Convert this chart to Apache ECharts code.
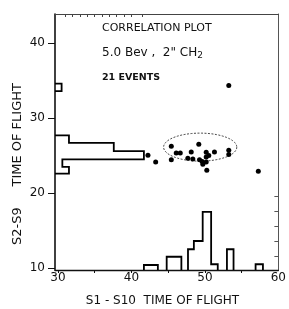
<!DOCTYPE html>
<html><head><meta charset="utf-8">
<script src="https://cdn.jsdelivr.net/npm/echarts@6/dist/echarts.min.js"></script>
<style>html,body{margin:0;padding:0;background:#fff}#c{width:289px;height:309px}</style>
</head><body><div id="c"></div>
<script>
// scatter events (S1-S10 time of flight, S2-S9 time of flight)
const eventX = [53.25,42.25,43.3,45.43,45.43,46.1,46.65,49.17,48.14,47.68,48.36,49.27,49.63,50.18,50.18,50.18,50.53,51.3,53.25,53.25,50.26,57.27,49.72];
const eventY = [34.36,25.05,24.13,26.24,24.46,25.35,25.35,26.5,25.48,24.66,24.53,24.44,24.22,25.46,24.8,24.13,25.0,25.48,25.73,25.16,23.06,22.9,23.86];
// projection onto the x axis (bottom histogram)
const xBinLeft  = [41.7,44.8,47.7,48.5,49.7,50.85,53.0,56.9];
const xBinRight = [43.6,46.8,48.5,49.7,50.85,51.75,53.9,57.9];
const xBinTop   = [10.4,11.5,12.5,13.6,17.5,10.5,12.5,10.5];
// projection onto the y axis (left histogram)
const yBinLow   = [22.6,23.5,24.5,25.6,26.7,33.6];
const yBinHigh  = [23.5,24.5,25.6,26.7,27.7,34.6];
const yBinRight = [31.5,30.6,41.7,37.6,31.5,30.5];
// selection ellipse
const ellipseCenter = [49.36,26.13];
const ellipseRadius = [4.98,1.87];
// ticks / labels
const xTickLabels = [30,40,50,60];
const xTicks = [30,35,40,45,50,55];
const yTickLabels = [10,20,30,40];
const topTicks = [31,32,33,34,35,36,37,38,39,40,41.5];
const rightTicks = [11.6,13.6,15.6,17.6,19.6];
const xRange = [29.6,60];
const yRange = [9.73,43.9];

function groups(lo, hi) {
  const out = []; let cur = [0];
  for (let i = 1; i < lo.length; i++) {
    if (Math.abs(lo[i] - hi[i-1]) < 0.01) cur.push(i); else { out.push(cur); cur = [i]; }
  }
  out.push(cur); return out;
}
const xGroups = groups(xBinLeft, xBinRight);
const yGroups = groups(yBinLow, yBinHigh);
const ink = '#111';
const FONT = 'DejaVu Sans';

const chart = echarts.init(document.getElementById('c'), null, {renderer:'canvas'});
chart.setOption({
  animation:false,
  backgroundColor:'#fff',
  grid:{left:55,right:10,top:14,bottom:39},
  xAxis:[{
    type:'value', min:xRange[0], max:xRange[1], position:'bottom',
    axisLine:{lineStyle:{color:ink,width:1.4}},
    axisTick:{customValues:xTicks,length:3,lineStyle:{color:ink}},
    axisLabel:{customValues:xTickLabels,margin:2,fontSize:12,color:ink,fontFamily:FONT},
    splitLine:{show:false}
  },{
    type:'value', min:xRange[0], max:xRange[1], position:'top',
    axisLine:{lineStyle:{color:'#444',width:1}},
    axisTick:{customValues:topTicks,inside:true,length:3,lineStyle:{color:'#444'}},
    axisLabel:{show:false}, splitLine:{show:false}
  }],
  yAxis:[{
    type:'value', min:yRange[0], max:yRange[1], position:'left',
    axisLine:{lineStyle:{color:ink,width:1.6}},
    axisTick:{customValues:yTickLabels,length:7,lineStyle:{color:ink}},
    axisLabel:{customValues:yTickLabels,margin:10,fontSize:12,color:ink,fontFamily:FONT},
    splitLine:{show:false}
  },{
    type:'value', min:yRange[0], max:yRange[1], position:'right',
    axisLine:{lineStyle:{color:'#555',width:1}},
    axisTick:{customValues:rightTicks,inside:true,length:4,lineStyle:{color:'#555'}},
    axisLabel:{show:false}, splitLine:{show:false}
  }],
  graphic:[
    {type:'text',left:102,top:23,style:{text:'CORRELATION PLOT',font:'11px "DejaVu Sans"',fill:ink}},
    {type:'text',left:102,top:47,style:{text:'5.0 Bev ,  2" CH{s|2}',font:'12px "DejaVu Sans"',fill:ink,
      rich:{s:{fontSize:9,fontFamily:FONT,padding:[6,0,0,0],fill:ink}}}},
    {type:'text',left:102,top:73,style:{text:'21 EVENTS',font:'bold 9.5px "DejaVu Sans"',fill:ink}},
    {type:'text',x:162.5,y:301,style:{text:'S1 - S10  TIME OF FLIGHT',font:'12px "DejaVu Sans"',fill:ink,align:'center',verticalAlign:'middle'}},
    {type:'text',x:18,y:164,rotation:Math.PI/2,style:{text:'S2-S9     TIME OF FLIGHT',font:'13px "DejaVu Sans"',fill:ink,align:'center',verticalAlign:'middle'}}
  ],
  series:[
    {type:'custom', xAxisIndex:0, yAxisIndex:0, clip:false,
     data:xGroups.map((g,i)=>i),
     renderItem:function(params, api){
       const g = xGroups[params.dataIndex];
       const pts = [api.coord([xBinLeft[g[0]], yRange[0]])];
       g.forEach(i=>{ pts.push(api.coord([xBinLeft[i], xBinTop[i]])); pts.push(api.coord([xBinRight[i], xBinTop[i]])); });
       pts.push(api.coord([xBinRight[g[g.length-1]], yRange[0]]));
       return {type:'polyline',shape:{points:pts},style:{stroke:'#000',lineWidth:1.8,fill:null}};
     }},
    {type:'custom', xAxisIndex:0, yAxisIndex:0, clip:false,
     data:yGroups.map((g,i)=>i),
     renderItem:function(params, api){
       const g = yGroups[params.dataIndex];
       const pts = [api.coord([xRange[0], yBinLow[g[0]]])];
       g.forEach(i=>{ pts.push(api.coord([yBinRight[i], yBinLow[i]])); pts.push(api.coord([yBinRight[i], yBinHigh[i]])); });
       pts.push(api.coord([xRange[0], yBinHigh[g[g.length-1]]]));
       return {type:'polyline',shape:{points:pts},style:{stroke:'#000',lineWidth:1.8,fill:null}};
     }},
    {type:'custom', xAxisIndex:0, yAxisIndex:0, data:[0],
     renderItem:function(params, api){
       const c = api.coord(ellipseCenter);
       const s = api.size(ellipseRadius);
       const pts = [];
       for (let k = 0; k < 90; k++) { const t = k/90*2*Math.PI; pts.push([c[0]+s[0]*Math.cos(t), c[1]+s[1]*Math.sin(t)]); }
       return {type:'polygon',shape:{points:pts},style:{stroke:'#333',lineWidth:0.9,lineDash:[2,1.5],fill:null}};
     }},
    {type:'scatter', xAxisIndex:0, yAxisIndex:0, symbolSize:5,
     itemStyle:{color:'#000',opacity:1},
     data:eventX.map((x,i)=>[x,eventY[i]])}
  ]
});
</script></body></html>
